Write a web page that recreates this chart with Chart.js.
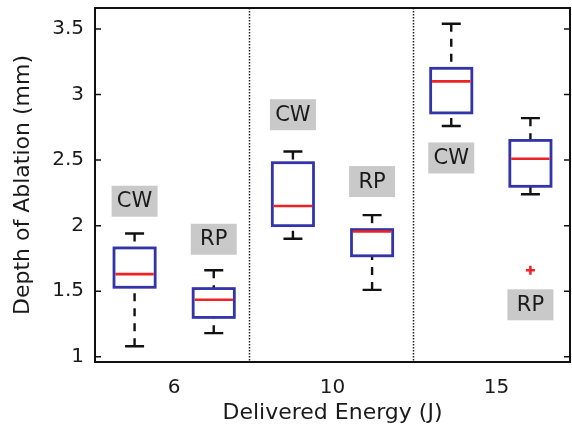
<!DOCTYPE html>
<html>
<head>
<meta charset="utf-8">
<script src="https://cdn.jsdelivr.net/npm/chart.js@4.4.1/dist/chart.umd.min.js"></script>
<style>
  html, body { margin: 0; padding: 0; background: #fff; }
  #wrap { width: 572px; height: 433px; }
</style>
</head>
<body>
<div id="wrap"><canvas id="chart" width="572" height="433"></canvas></div>
<script>
// delivered energy groups, two boxes (CW, RP) per group
var groups = ['6', '10', '15'];
var boxNames = ['CW', 'RP', 'CW', 'RP', 'CW', 'RP'];
var whiskerLow = [1.08, 1.18, 1.90, 1.51, 2.76, 2.24];
var q1 = [1.53, 1.30, 2.00, 1.77, 2.86, 2.30];
var medians = [1.63, 1.435, 2.15, 1.955, 3.10, 2.51];
var q3 = [1.83, 1.52, 2.48, 1.97, 3.20, 2.65];
var whiskerHigh = [1.94, 1.66, 2.565, 2.08, 3.54, 2.82];
var outlierBox = [6];
var outlierValues = [1.66];
var labelValues = [2.19, 1.90, 2.85, 2.34, 2.52, 1.40];
var yTicks = [1, 1.5, 2, 2.5, 3, 3.5];

var groupCenters = [1.5, 3.5, 5.57];
var dividers = [2.45, 4.52];
var font = 'DejaVu Sans';

var boxPlot = {
    id: 'boxPlot',
    afterDatasetsDraw(chart) {
        const ctx = chart.ctx;
        const x = chart.scales.x;
        const y = chart.scales.y;
        const area = chart.chartArea;
        ctx.save();

        // dotted group dividers
        ctx.strokeStyle = '#222';
        ctx.lineWidth = 1.5;
        ctx.setLineDash([1.5, 1.5]);
        dividers.forEach(function (d) {
            const px = Math.round(x.getPixelForValue(d)) + 0.5;
            ctx.beginPath();
            ctx.moveTo(px, area.top);
            ctx.lineTo(px, area.bottom);
            ctx.stroke();
        });

        const halfBox = 0.26, halfCap = 0.12;
        for (let i = 0; i < boxNames.length; i++) {
            const pos = i + 1;
            const cx = x.getPixelForValue(pos);
            const l = x.getPixelForValue(pos - halfBox);
            const r = x.getPixelForValue(pos + halfBox);
            const cl = x.getPixelForValue(pos - halfCap);
            const cr = x.getPixelForValue(pos + halfCap);

            // whiskers, dashed from the cap towards the box
            ctx.strokeStyle = '#111';
            ctx.lineWidth = 2.4;
            ctx.setLineDash([8, 7]);
            ctx.beginPath();
            ctx.moveTo(cx, y.getPixelForValue(whiskerHigh[i]));
            ctx.lineTo(cx, y.getPixelForValue(q3[i]));
            ctx.stroke();
            ctx.beginPath();
            ctx.moveTo(cx, y.getPixelForValue(whiskerLow[i]));
            ctx.lineTo(cx, y.getPixelForValue(q1[i]));
            ctx.stroke();
            ctx.setLineDash([]);
            ctx.beginPath();
            ctx.moveTo(cl, y.getPixelForValue(whiskerHigh[i]));
            ctx.lineTo(cr, y.getPixelForValue(whiskerHigh[i]));
            ctx.moveTo(cl, y.getPixelForValue(whiskerLow[i]));
            ctx.lineTo(cr, y.getPixelForValue(whiskerLow[i]));
            ctx.stroke();

            // box
            const top = y.getPixelForValue(q3[i]);
            const bot = y.getPixelForValue(q1[i]);
            ctx.fillStyle = '#fff';
            ctx.fillRect(l, top, r - l, bot - top);
            ctx.strokeStyle = '#3333aa';
            ctx.lineWidth = 2.8;
            ctx.strokeRect(l, top, r - l, bot - top);

            // median
            const my = y.getPixelForValue(medians[i]);
            ctx.strokeStyle = '#ee2222';
            ctx.lineWidth = 2.6;
            ctx.beginPath();
            ctx.moveTo(l + 1.4, my);
            ctx.lineTo(r - 1.4, my);
            ctx.stroke();

            // name label
            const ly = y.getPixelForValue(labelValues[i]);
            ctx.fillStyle = '#c9c9c9';
            ctx.fillRect(cx - 23, ly - 15, 46, 31);
            ctx.fillStyle = '#1a1a1a';
            ctx.font = '21px "' + font + '"';
            ctx.textAlign = 'center';
            ctx.textBaseline = 'middle';
            ctx.fillText(boxNames[i], cx, ly + 1);
        }
        ctx.restore();
    },
    afterDraw(chart) {
        const ctx = chart.ctx;
        const y = chart.scales.y;
        const a = chart.chartArea;
        ctx.save();
        ctx.strokeStyle = '#111';
        ctx.lineWidth = 2;
        ctx.strokeRect(a.left, a.top, a.right - a.left, a.bottom - a.top);
        ctx.lineWidth = 1.5;
        ctx.beginPath();
        yTicks.forEach(function (t) {
            const py = y.getPixelForValue(t);
            ctx.moveTo(a.left, py);
            ctx.lineTo(a.left + 6, py);
            ctx.moveTo(a.right, py);
            ctx.lineTo(a.right - 6, py);
        });
        ctx.stroke();
        ctx.restore();
    }
};

new Chart(document.getElementById('chart'), {
    type: 'scatter',
    data: {
        datasets: [{
            label: 'Outliers',
            data: outlierBox.map(function (b, i) { return { x: b, y: outlierValues[i] }; }),
            pointStyle: 'cross',
            radius: 4.5,
            borderColor: '#ee2222',
            borderWidth: 2.5
        }]
    },
    options: {
        responsive: false,
        animation: false,
        layout: { autoPadding: false, padding: { left: 0, right: 2, top: 8, bottom: 0 } },
        plugins: { legend: { display: false }, tooltip: { enabled: false } },
        scales: {
            x: {
                type: 'linear',
                min: 0.5,
                max: 6.5,
                afterBuildTicks(scale) {
                    scale.ticks = groupCenters.map(function (v) { return { value: v }; });
                },
                afterFit(scale) {
                    scale.height = 71;
                    scale.paddingLeft = 0;
                    scale.paddingRight = 0;
                },
                grid: { display: false },
                border: { display: false },
                ticks: {
                    padding: 6,
                    color: '#1a1a1a',
                    font: { family: font, size: 20 },
                    callback: function (v, i) { return groups[i]; }
                },
                title: {
                    display: true,
                    text: 'Delivered Energy (J)',
                    color: '#1a1a1a',
                    font: { family: font, size: 22 },
                    padding: { top: 0, bottom: 7 }
                }
            },
            y: {
                min: 0.96,
                max: 3.66,
                afterBuildTicks(scale) {
                    scale.ticks = yTicks.map(function (v) { return { value: v }; });
                },
                afterFit(scale) {
                    scale.width = 95;
                    scale.paddingTop = 0;
                    scale.paddingBottom = 0;
                },
                grid: { display: false },
                border: { display: false },
                ticks: {
                    padding: 3,
                    color: '#1a1a1a',
                    font: { family: font, size: 20 },
                    callback: function (v) { return String(v); }
                },
                title: {
                    display: true,
                    text: 'Depth of Ablation (mm)',
                    color: '#1a1a1a',
                    font: { family: font, size: 22 },
                    padding: { top: 10, bottom: 0 }
                }
            }
        }
    },
    plugins: [boxPlot]
});
</script>
</body>
</html>
